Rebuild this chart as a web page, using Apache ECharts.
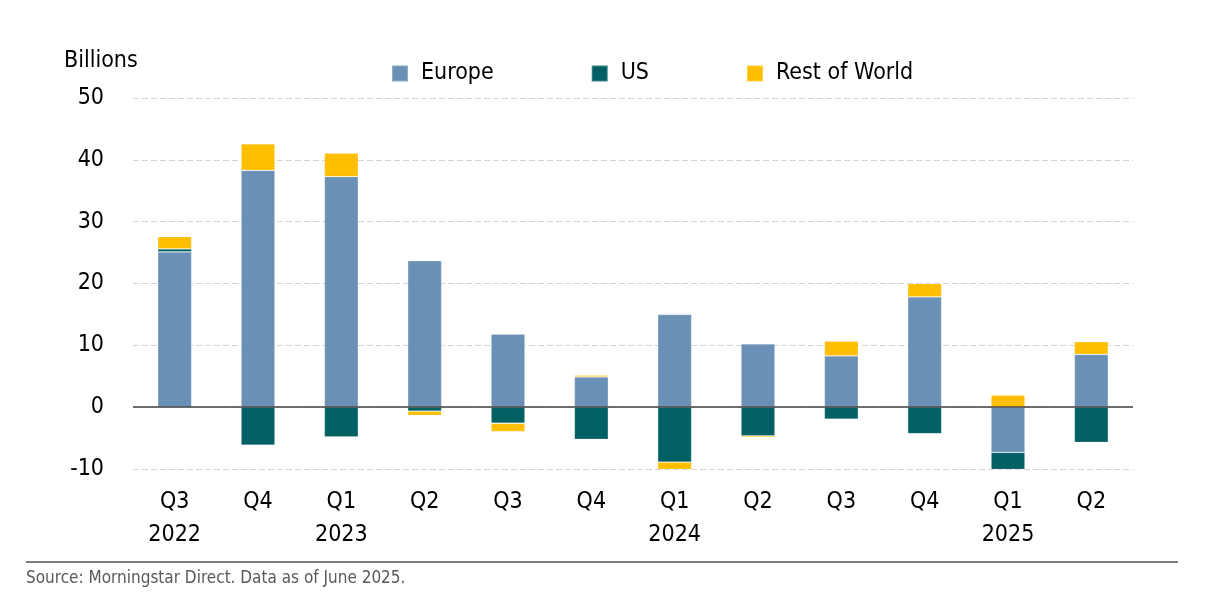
<!DOCTYPE html>
<html>
<head>
<meta charset="utf-8">
<script src="https://cdn.jsdelivr.net/npm/echarts@6/dist/echarts.min.js"></script>
<style>
html,body{margin:0;padding:0;background:#fff;}
#chart{width:1222px;height:612px;}
</style>
</head>
<body>
<div id="chart"></div>
<script>
const categories = ['Q3\n2022','Q4','Q1\n2023','Q2','Q3','Q4','Q1\n2024','Q2','Q3','Q4','Q1\n2025','Q2'];
const europe = [25.1, 38.3, 37.3, 23.7, 11.8, 4.9, 15.0, 10.25, 8.3, 17.85, -7.3, 8.55];
const us = [0.5, -6.15, -4.8, -0.65, -2.6, -5.2, -8.9, -4.65, -1.95, -4.3, -2.95, -5.7];
const restOfWorld = [2.0, 4.3, 3.8, -0.7, -1.35, 0.3, -1.35, -0.25, 2.4, 2.15, 1.95, 2.05];
const yTicks = {min: -10, max: 50, interval: 10};

const FONT = "'Liberation Sans Narrow', 'Arial Narrow', 'DejaVu Sans Condensed', sans-serif";
const chart = echarts.init(document.getElementById('chart'));
const barW = 34;
const edge = {borderColor: 'rgba(255,255,255,0.25)', borderWidth: 0.8};
chart.setOption({
  animation: false,
  textStyle: {fontFamily: FONT},
  graphic: [
    {type: 'text', left: 64, top: 50, style: {text: 'Billions', fontFamily: FONT, fontSize: 23, fill: '#000'}},
    {type: 'line', shape: {x1: 26, y1: 562, x2: 1178, y2: 562}, style: {stroke: '#000', lineWidth: 1.2}},
    {type: 'text', left: 26, top: 570, style: {text: 'Source: Morningstar Direct. Data as of June 2025.', fontFamily: FONT, fontSize: 17, fill: '#595959'}}
  ],
  legend: {
    left: 386, top: 57,
    itemWidth: 16, itemHeight: 16, itemGap: 97,
    icon: 'rect',
    textStyle: {fontFamily: FONT, fontSize: 23, color: '#000', padding: [0, 0, 0, 8]},
    data: ['Europe', 'US', 'Rest of World']
  },
  grid: {left: 133, right: 89, top: 98, bottom: 143, containLabel: false},
  xAxis: {
    type: 'category',
    data: categories,
    axisLine: {show: false, onZero: false},
    axisTick: {show: false},
    axisLabel: {fontFamily: FONT, fontSize: 23, color: '#000', lineHeight: 33, margin: 17}
  },
  yAxis: {
    type: 'value',
    min: yTicks.min, max: yTicks.max, interval: yTicks.interval,
    axisLine: {show: false}, axisTick: {show: false},
    axisLabel: {fontFamily: FONT, fontSize: 23, color: '#000', margin: 29},
    splitLine: {lineStyle: {color: '#d4d4d4', type: [6, 3], width: 1}}
  },
  series: [
    {name: 'Europe', type: 'bar', stack: 'a', data: europe, barWidth: barW,
     itemStyle: Object.assign({color: '#6a90b5'}, edge),
     markLine: {silent: true, symbol: 'none', label: {show: false},
       lineStyle: {color: '#404040', width: 1.5, type: 'solid'}, data: [{yAxis: 0}]}},
    {name: 'US', type: 'bar', stack: 'a', data: us, barWidth: barW,
     itemStyle: Object.assign({color: '#006064'}, edge)},
    {name: 'Rest of World', type: 'bar', stack: 'a', data: restOfWorld, barWidth: barW,
     itemStyle: Object.assign({color: '#ffbe00'}, edge)}
  ]
});
</script>
</body>
</html>
